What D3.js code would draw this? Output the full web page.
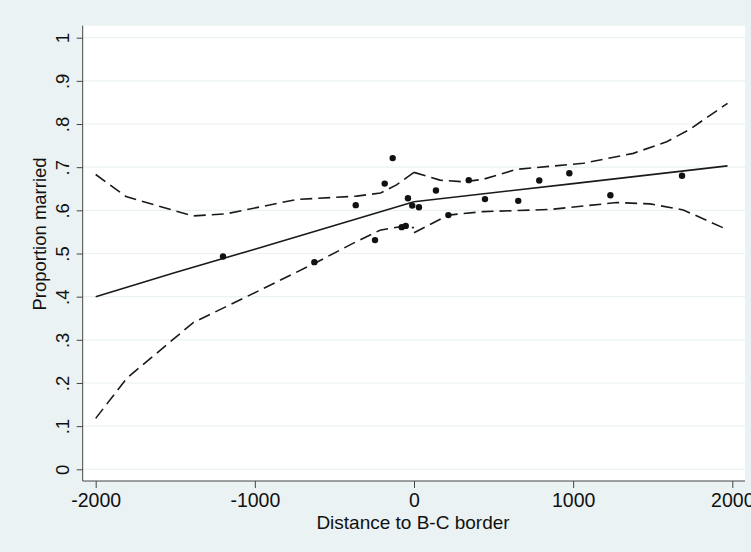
<!DOCTYPE html>
<html>
<head>
<meta charset="utf-8">
<script src="https://cdn.jsdelivr.net/npm/d3@7"></script>
<style>
  html, body { margin: 0; padding: 0; background: #eaf2f3; }
  svg { display: block; font-family: 'Liberation Sans', Arial, sans-serif; }
  .axis path, .axis line { stroke: #444; }
  .axis text { fill: #111; }
</style>
</head>
<body>
<div id="chart"></div>
<script>
// binned means
const dotX = [-1200, -626, -366, -245, -184, -134, -77, -52, -38, -11, 31, 138, 216, 344, 446, 655, 787, 976, 1234, 1684];
const dotY = [0.493, 0.480, 0.612, 0.531, 0.662, 0.721, 0.561, 0.564, 0.628, 0.611, 0.607, 0.646, 0.589, 0.670, 0.626, 0.622, 0.669, 0.686, 0.635, 0.680];

// fitted line, left and right of the border
const fitLeftX = [-2000, -1500, -1000, -500, 0];
const fitLeftY = [0.400, 0.456, 0.510, 0.565, 0.620];
const fitRightX = [0, 1000, 1970];
const fitRightY = [0.620, 0.662, 0.703];

// confidence bands
const upperLeftX = [-2000, -1810, -1390, -1180, -740, -360, -210, -110, 0];
const upperLeftY = [0.683, 0.632, 0.587, 0.592, 0.625, 0.633, 0.640, 0.659, 0.688];
const lowerLeftX = [-2000, -1805, -1387, -968, -626, -381, -214, -88, 0];
const lowerLeftY = [0.118, 0.211, 0.340, 0.415, 0.477, 0.524, 0.554, 0.562, 0.560];
const upperRightX = [0, 163, 310, 435, 645, 1064, 1378, 1588, 1734, 1970];
const upperRightY = [0.688, 0.670, 0.666, 0.672, 0.695, 0.709, 0.732, 0.759, 0.788, 0.848];
const lowerRightX = [0, 216, 435, 855, 1274, 1483, 1692, 1970];
const lowerRightY = [0.548, 0.589, 0.597, 0.602, 0.618, 0.615, 0.601, 0.555];

const xTicks = [-2000, -1000, 0, 1000, 2000];
const yTicks = [0, 0.1, 0.2, 0.3, 0.4, 0.5, 0.6, 0.7, 0.8, 0.9, 1];
const yTickLabels = ['0', '.1', '.2', '.3', '.4', '.5', '.6', '.7', '.8', '.9', '1'];

const width = 751;
const height = 552;
const plot = { left: 82.7, right: 745, top: 25.7, bottom: 481 };

const x = d3.scaleLinear().domain([-2000, 2000]).range([95.7, 732.3]);
const y = d3.scaleLinear().domain([0, 1]).range([469.3, 37.7]);

const svg = d3
  .select('#chart')
  .append('svg')
  .attr('width', width)
  .attr('height', height);

svg
  .append('rect')
  .attr('width', width)
  .attr('height', height)
  .attr('fill', '#eaf2f3');

svg
  .append('rect')
  .attr('x', plot.left)
  .attr('y', plot.top)
  .attr('width', plot.right - plot.left)
  .attr('height', plot.bottom - plot.top)
  .attr('fill', '#fff');

// gridlines
svg
  .append('g')
  .selectAll('line')
  .data(yTicks)
  .join('line')
  .attr('x1', plot.left)
  .attr('x2', plot.right)
  .attr('y1', d => y(d))
  .attr('y2', d => y(d))
  .attr('stroke', '#eaf1f2')
  .attr('stroke-width', 1.2);

const zip = (xs, ys) => xs.map((v, i) => [v, ys[i]]);
const line = d3.line(d => x(d[0]), d => y(d[1]));

const series = [
  { pts: zip(upperLeftX, upperLeftY), dash: '12,6' },
  { pts: zip(lowerLeftX, lowerLeftY), dash: '12,6' },
  { pts: zip(upperRightX, upperRightY), dash: '12,6' },
  { pts: zip(lowerRightX, lowerRightY), dash: '12,6' },
  { pts: zip(fitLeftX, fitLeftY), dash: null },
  { pts: zip(fitRightX, fitRightY), dash: null }
];

svg
  .append('g')
  .selectAll('path')
  .data(series)
  .join('path')
  .attr('d', d => line(d.pts))
  .attr('fill', 'none')
  .attr('stroke', '#1a1a1a')
  .attr('stroke-width', 1.6)
  .attr('stroke-dasharray', d => d.dash);

svg
  .append('g')
  .selectAll('circle')
  .data(zip(dotX, dotY))
  .join('circle')
  .attr('cx', d => x(d[0]))
  .attr('cy', d => y(d[1]))
  .attr('r', 3.2)
  .attr('fill', '#111');

// axes
const yAxis = svg
  .append('g')
  .attr('class', 'axis')
  .attr('transform', `translate(${plot.left}, 0)`)
  .call(
    d3
      .axisLeft(y)
      .tickValues(yTicks)
      .tickSize(6)
      .tickSizeOuter(0)
      .tickFormat((d, i) => yTickLabels[i])
  );
yAxis.select('.domain').attr('d', `M0,${plot.top}V${plot.bottom}`);
yAxis
  .selectAll('.tick text')
  .attr('x', null)
  .attr('dy', null)
  .attr('text-anchor', 'middle')
  .attr('font-size', 18.5)
  .attr('transform', 'translate(-14, 0) rotate(-90)');

const xAxis = svg
  .append('g')
  .attr('class', 'axis')
  .attr('transform', `translate(0, ${plot.bottom})`)
  .call(
    d3
      .axisBottom(x)
      .tickValues(xTicks)
      .tickSize(7)
      .tickSizeOuter(0)
      .tickFormat(d => String(d))
  );
xAxis.select('.domain').attr('d', `M${plot.left},0H${plot.right}`);
xAxis
  .selectAll('.tick text')
  .attr('y', 12)
  .attr('font-size', 19.5);

svg
  .append('text')
  .attr('x', 413)
  .attr('y', 529)
  .attr('text-anchor', 'middle')
  .attr('font-size', 19)
  .attr('fill', '#111')
  .text('Distance to B-C border');

svg
  .append('text')
  .attr('transform', 'translate(46, 234) rotate(-90)')
  .attr('text-anchor', 'middle')
  .attr('font-size', 18.5)
  .attr('fill', '#111')
  .text('Proportion married');
</script>
</body>
</html>
